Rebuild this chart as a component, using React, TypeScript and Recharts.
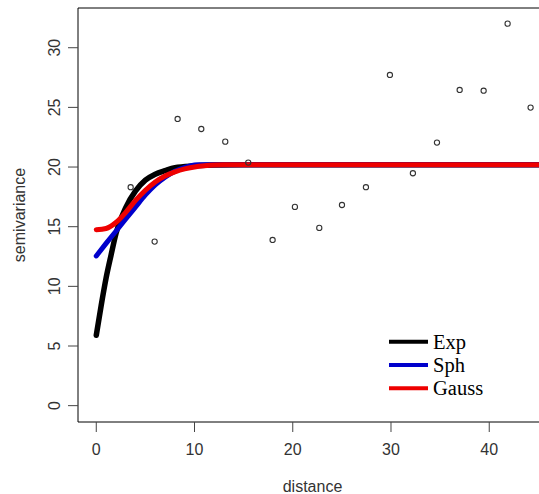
import {
  ComposedChart,
  Line,
  Scatter,
  XAxis,
  YAxis,
  ReferenceLine,
  Legend,
  Label,
} from "recharts";

// empirical semivariogram (distance / semivariance)
const dist = [3.5, 5.94, 8.28, 10.69, 13.13, 15.47, 17.95, 20.22, 22.7, 25.01, 27.45, 29.89, 32.23, 34.68, 36.99, 39.43, 41.87, 44.21];
const gamma = [18.31, 13.75, 24.03, 23.19, 22.13, 20.37, 13.89, 16.66, 14.9, 16.82, 18.31, 27.72, 19.48, 22.05, 26.46, 26.4, 32.02, 24.98];

// fitted models
const expX = [0, 0.5, 1, 1.5, 2, 3, 4, 5, 6, 7, 8, 10, 12, 15, 47];
const expY = [5.9, 8.4, 10.7, 12.6, 14.4, 16.6, 18.0, 18.9, 19.4, 19.7, 19.95, 20.1, 20.18, 20.2, 20.2];
const sphX = [0, 1, 2, 3, 4, 5, 6, 7, 8, 9, 10, 10.5, 47];
const sphY = [12.55, 13.6, 14.62, 15.65, 16.66, 17.66, 18.5, 19.15, 19.65, 19.98, 20.17, 20.2, 20.2];
const gauX = [0, 1, 2, 3, 4, 5, 6, 7, 8, 9, 10, 11, 12, 13, 47];
const gauY = [14.75, 14.85, 15.35, 16.2, 17.2, 18.05, 18.75, 19.25, 19.6, 19.85, 20.0, 20.1, 20.17, 20.2, 20.2];

const xTicks = [0, 10, 20, 30, 40];
const yTicks = [0, 5, 10, 15, 20, 25, 30];
const X_MIN = -1.86;
const X_MAX = 45.88;
const Y_MIN = -1.37;
const Y_MAX = 33.33;

const models = [
  { name: "Exp", xs: expX, ys: expY, color: "#000000", width: 5.5 },
  { name: "Sph", xs: sphX, ys: sphY, color: "#0000cc", width: 5 },
  { name: "Gauss", xs: gauX, ys: gauY, color: "#ee0000", width: 5 },
];

const points = dist.map((d, i) => ({ x: d, y: gamma[i] }));

const sans = "'Liberation Sans', Arial, sans-serif";

function YTick(props: any) {
  const { x, y, payload } = props;
  return (
    <text
      transform={`translate(${x - 8},${y}) rotate(-90)`}
      textAnchor="middle"
      fill="#333"
      fontSize={16}
      fontFamily={sans}
    >
      {payload.value}
    </text>
  );
}

function ModelLegend() {
  return (
    <svg width={120} height={75}>
      {models.map((m, i) => {
        const cy = 13.7 + i * 23.3;
        return (
          <g key={m.name}>
            <line x1={5} x2={44} y1={cy} y2={cy} stroke={m.color} strokeWidth={4} />
            <text
              x={49}
              y={cy + 7}
              fontSize={20.5}
              fontFamily="'Liberation Serif', 'Times New Roman', serif"
              fill="#000"
            >
              {m.name}
            </text>
          </g>
        );
      })}
    </svg>
  );
}

export default function App() {
  return (
    <div
      style={{
        position: "absolute",
        left: 0,
        top: 0,
        width: 539,
        height: 494,
        overflow: "hidden",
        background: "#fff",
      }}
    >
      <ComposedChart width={557} height={494} margin={{ top: 8, right: 10, bottom: 0, left: 0 }}>
        <XAxis
          type="number"
          dataKey="x"
          domain={[X_MIN, X_MAX]}
          ticks={xTicks}
          allowDataOverflow
          height={72}
          tickSize={10}
          tickMargin={12}
          axisLine={{ stroke: "#000" }}
          tickLine={{ stroke: "#444" }}
          tick={{ fill: "#333", fontSize: 16, fontFamily: sans }}
        >
          <Label
            content={(p: any) => {
              const vb = p.viewBox;
              return (
                <text
                  x={vb.x + vb.width / 2}
                  y={vb.y + vb.height - 2}
                  textAnchor="middle"
                  fill="#333"
                  fontSize={16}
                  fontFamily={sans}
                >
                  distance
                </text>
              );
            }}
          />
        </XAxis>
        <YAxis
          type="number"
          dataKey="y"
          domain={[Y_MIN, Y_MAX]}
          ticks={yTicks}
          allowDataOverflow
          width={78}
          tickSize={10}
          tickMargin={0}
          axisLine={{ stroke: "#000" }}
          tickLine={{ stroke: "#444" }}
          tick={(p: any) => <YTick {...p} />}
        >
          <Label
            content={(p: any) => {
              const vb = p.viewBox;
              return (
                <text
                  transform={`translate(25,${vb.y + vb.height / 2}) rotate(-90)`}
                  textAnchor="middle"
                  fill="#333"
                  fontSize={16}
                  fontFamily={sans}
                >
                  semivariance
                </text>
              );
            }}
          />
        </YAxis>
        <ReferenceLine y={Y_MAX} stroke="#000" strokeWidth={1} />
        <Scatter
          data={points}
          dataKey="y"
          isAnimationActive={false}
          shape={(p: any) => (
            <circle cx={p.cx} cy={p.cy} r={2.6} fill="none" stroke="#333" strokeWidth={1.1} />
          )}
        />
        {models.map((m) => (
          <Line
            key={m.name}
            data={m.xs.map((x, i) => ({ x, y: m.ys[i] }))}
            dataKey="y"
            type="monotone"
            stroke={m.color}
            strokeWidth={m.width}
            strokeLinecap="round"
            dot={false}
            activeDot={false}
            isAnimationActive={false}
          />
        ))}
        <Legend
          layout="vertical"
          align="center"
          verticalAlign="middle"
          wrapperStyle={{ left: 384, top: 328, width: 120 }}
          content={() => <ModelLegend />}
        />
      </ComposedChart>
    </div>
  );
}
